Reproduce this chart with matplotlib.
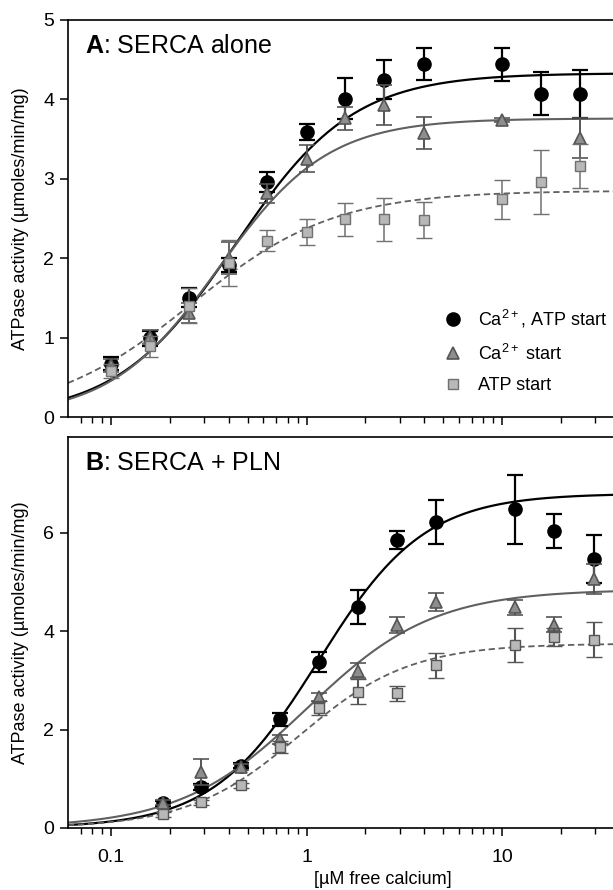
import numpy as np
import matplotlib
matplotlib.use("Agg")
import matplotlib.pyplot as plt
from matplotlib.lines import Line2D
from matplotlib.ticker import LogLocator, FixedLocator, NullFormatter, FixedFormatter

plt.rcParams['font.family'] = ['Liberation Sans', 'DejaVu Sans']
plt.rcParams['mathtext.fontset'] = 'custom'
plt.rcParams['mathtext.rm'] = 'Liberation Sans'
plt.rcParams['mathtext.bf'] = 'Liberation Sans:bold'
plt.rcParams['mathtext.default'] = 'regular'

# --- panel A: SERCA alone ---
a_x_both = [0.1, 0.158, 0.25, 0.4, 0.63, 1.0, 1.58, 2.5, 4.0, 10, 15.8, 25]
a_both = [0.67, 0.99, 1.50, 1.91, 2.96, 3.59, 4.01, 4.25, 4.45, 4.44, 4.07, 4.07]
a_both_err = [0.08, 0.09, 0.12, 0.09, 0.13, 0.10, 0.26, 0.24, 0.20, 0.21, 0.27, 0.30]

a_x_ca = [0.1, 0.158, 0.25, 0.4, 0.63, 1.0, 1.58, 2.5, 4.0, 10, 25]
a_ca = [0.65, 1.01, 1.31, 2.0, 2.82, 3.25, 3.76, 3.93, 3.58, 3.74, 3.51]
a_ca_err = [0.08, 0.09, 0.12, 0.2, 0.12, 0.17, 0.15, 0.25, 0.2, 0.02, 0.25]

a_x_atp = [0.1, 0.158, 0.25, 0.4, 0.63, 1.0, 1.58, 2.5, 4.0, 10, 15.8, 25]
a_atp = [0.58, 0.89, 1.40, 1.94, 2.22, 2.33, 2.49, 2.49, 2.48, 2.74, 2.96, 3.16]
a_atp_err = [0.09, 0.13, 0.22, 0.29, 0.13, 0.16, 0.21, 0.27, 0.23, 0.25, 0.40, 0.28]

# Hill fit parameters (Vmax, K, n)
a_fit_both = (4.33, 0.43, 1.44)
a_fit_ca = (3.76, 0.356, 1.56)
a_fit_atp = (2.85, 0.258, 1.19)

# --- panel B: SERCA + PLN ---
b_x = [0.184, 0.29, 0.46, 0.73, 1.16, 1.84, 2.9, 4.6, 11.6, 18.4, 29.5]
b_both = [0.50, 0.84, 1.27, 2.21, 3.38, 4.49, 5.85, 6.22, 6.48, 6.04, 5.47]
b_both_err = [0.05, 0.06, 0.05, 0.13, 0.2, 0.35, 0.18, 0.44, 0.7, 0.35, 0.48]
b_ca = [0.51, 1.14, 1.24, 1.80, 2.67, 3.2, 4.13, 4.59, 4.49, 4.13, 5.06]
b_ca_err = [0.05, 0.26, 0.06, 0.1, 0.08, 0.15, 0.17, 0.18, 0.15, 0.15, 0.3]
b_atp = [0.28, 0.52, 0.87, 1.65, 2.44, 2.77, 2.74, 3.31, 3.72, 3.88, 3.83]
b_atp_err = [0.05, 0.05, 0.05, 0.12, 0.15, 0.25, 0.15, 0.25, 0.35, 0.18, 0.35]

b_fit_both = (6.8, 1.15, 1.6)
b_fit_ca = (4.85, 1.0, 1.34)
b_fit_atp = (3.75, 0.915, 1.53)

labels = ["Ca$^{2+}$, ATP start", "Ca$^{2+}$ start", "ATP start"]
x_ticks = [0.1, 1, 10]
x_ticklabels = ["0.1", "1", "10"]


def hill(x, p):
    vmax, k, n = p
    return vmax * x**n / (k**n + x**n)


W, H = 613, 890
fig = plt.figure(figsize=(W / 100, H / 100), dpi=100)

xmin, xmax = 0.0602, 100
dec_px = 195.5
ax_w = np.log10(xmax / xmin) * dec_px / W

axA = fig.add_axes([68 / W, 1 - 417 / H, ax_w, (417 - 20) / H])
axB = fig.add_axes([68 / W, 1 - 828 / H, ax_w, (828 - 437) / H])

s_both = dict(fmt='o', ms=9.5, mfc='black', mec='black', ecolor='black',
              elinewidth=1.6, capsize=5.5, capthick=1.6)
s_ca = dict(fmt='^', ms=8.5, mfc='#8e8e8e', mec='#555555', mew=1.2, ecolor='#555555',
            elinewidth=1.4, capsize=5.5, capthick=1.4)
s_atp = dict(fmt='s', ms=6.5, mfc='#b8b8b8', mec='#707070', mew=1.0, ecolor='#707070',
             elinewidth=1.1, capsize=5.5, capthick=1.1)
s_atp_b = dict(s_atp, ecolor='#555555', elinewidth=1.5, capthick=1.5, mec='#555555')

xc = np.logspace(np.log10(xmin), np.log10(xmax), 400)

# panel A
axA.plot(xc, hill(xc, a_fit_both), color='black', lw=1.6, zorder=2)
axA.plot(xc, hill(xc, a_fit_ca), color='#606060', lw=1.5, zorder=2)
axA.plot(xc, hill(xc, a_fit_atp), color='#606060', lw=1.3, ls=(0, (3.5, 2)), zorder=2)
axA.errorbar(a_x_both, a_both, yerr=a_both_err, zorder=3, **s_both)
axA.errorbar(a_x_ca, a_ca, yerr=a_ca_err, zorder=4, **s_ca)
axA.errorbar(a_x_atp, a_atp, yerr=a_atp_err, zorder=5, **s_atp)

# panel B
axB.plot(xc, hill(xc, b_fit_both), color='black', lw=1.6, zorder=2)
axB.plot(xc, hill(xc, b_fit_ca), color='#606060', lw=1.5, zorder=2)
axB.plot(xc, hill(xc, b_fit_atp), color='#606060', lw=1.3, ls=(0, (3.5, 2)), zorder=2)
axB.errorbar(b_x, b_both, yerr=b_both_err, zorder=3, **s_both)
axB.errorbar(b_x, b_ca, yerr=b_ca_err, zorder=4, **s_ca)
axB.errorbar(b_x, b_atp, yerr=b_atp_err, zorder=5, **s_atp_b)

for ax in (axA, axB):
    ax.set_xscale('log')
    ax.set_xlim(xmin, xmax)
    ax.spines['right'].set_visible(False)
    for sp in ax.spines.values():
        sp.set_linewidth(1.2)
    ax.xaxis.set_major_locator(FixedLocator(x_ticks))
    ax.xaxis.set_minor_locator(LogLocator(base=10, subs=np.arange(2, 10)))
    ax.xaxis.set_minor_formatter(NullFormatter())
    ax.tick_params(axis='both', which='major', direction='out', length=6, width=1.1,
                   labelsize=14, pad=4)
    ax.tick_params(axis='x', which='minor', direction='out', length=4, width=1.0)
    ax.set_ylabel("ATPase activity (\u00b5moles/min/mg)", fontsize=13, labelpad=10)

axA.set_ylim(0, 5)
axA.set_yticks([0, 1, 2, 3, 4, 5])
axA.xaxis.set_major_formatter(NullFormatter())

axB.set_ylim(0, 7.95)
axB.set_yticks([0, 2, 4, 6])
axB.xaxis.set_major_formatter(FixedFormatter(x_ticklabels))
axB.tick_params(axis='x', which='major', pad=9)
axB.set_xlabel("[\u00b5M free calcium]", fontsize=13, labelpad=4)

fig.text(85 / W, 1 - 46 / H, r"$\bf{A}$: SERCA alone", fontsize=18, va='center', ha='left')
fig.text(85 / W, 1 - 463 / H, r"$\bf{B}$: SERCA + PLN", fontsize=18, va='center', ha='left')

handles = [
    Line2D([], [], ls='none', marker='o', ms=9.5, mfc='black', mec='black'),
    Line2D([], [], ls='none', marker='^', ms=8.5, mfc='#8e8e8e', mec='#555555', mew=1.2),
    Line2D([], [], ls='none', marker='s', ms=6.5, mfc='#b8b8b8', mec='#707070', mew=1.0),
]
axA.legend(handles, labels, loc='upper left', bbox_to_anchor=(444 / W, 1 - 308 / H),
           bbox_transform=fig.transFigure, frameon=False, fontsize=13,
           handlelength=1.0, handletextpad=0.9, labelspacing=0.75,
           borderpad=0, borderaxespad=0)

fig.savefig("out.png", dpi=100)
